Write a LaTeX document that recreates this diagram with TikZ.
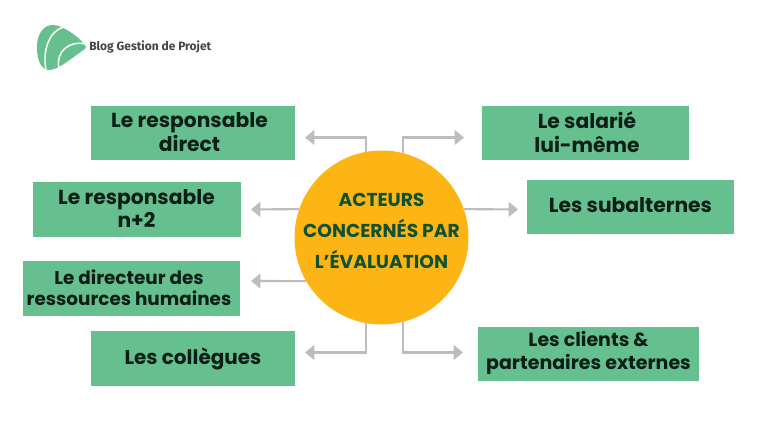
\documentclass[tikz,border=0pt]{standalone}
\usepackage{fontspec}
\setmainfont{Poppins}
\newfontfamily\logofont{Fira Sans}
\usetikzlibrary{arrows.meta}
\definecolor{boxgreen}{HTML}{66BF8E}
\definecolor{hubgold}{HTML}{FDB515}
\definecolor{hubtext}{HTML}{0F5132}
\definecolor{boxtext}{HTML}{0C1F16}
\definecolor{linkgrey}{HTML}{BDBDBD}
\definecolor{logogrey}{HTML}{444444}
\tikzset{
  actor/.style={fill=boxgreen,inner sep=0pt},
  actorlabel/.style={inner sep=0pt,align=center,text=boxtext,font=\fontsize{15.2}{17.5}\selectfont\bfseries},
  link/.style={draw=linkgrey,line width=1.6pt,-{Triangle[length=7pt,width=11pt]}},
}
\begin{document}
\begin{tikzpicture}[x=0.75pt,y=-0.75pt]
\useasboundingbox (0,0) rectangle (768,432);
\fill[white] (0,0) rectangle (768,432);
% logo
\fill[boxgreen] (37,47) .. controls (37,33) and (44,25) .. (53,25) .. controls (63,25) and (80,38) .. (85,45) .. controls (87,48) and (85,49) .. (82,51) .. controls (72,58) and (58,70) .. (49,70) .. controls (41,70) and (37,60) .. (37,47) -- cycle;
\draw[white,line width=1.1pt] (64,27) .. controls (50,30) and (42,50) .. (46,70);
\draw[white,line width=1.1pt] (85,44) .. controls (70,40) and (55,52) .. (59,68);
\node[anchor=west,inner sep=0pt,text=logogrey,font=\logofont\fontsize{9}{10}\selectfont\bfseries] (brand) at (89,47) {Blog Gestion de Projet};
% boxes
\node[actor,minimum width=153pt,minimum height=40.5pt] (a1) at (193,133) {};
\node[actor,minimum width=156pt,minimum height=41.25pt] (a2) at (137,209.5) {};
\node[actor,minimum width=162.75pt,minimum height=41.25pt] (a3) at (131.5,288.5) {};
\node[actor,minimum width=153pt,minimum height=41.25pt] (a4) at (193,358.5) {};
\node[actor,minimum width=155.25pt,minimum height=40.5pt] (b1) at (585.5,133) {};
\node[actor,minimum width=155.25pt,minimum height=40.5pt] (b2) at (630.5,207) {};
\node[actor,minimum width=165.75pt,minimum height=40.5pt] (b3) at (588.5,354) {};
% box texts
\node[actorlabel] (a1t) at (189.5,132) {Le responsable\\direct};
\node[actorlabel] (a2t) at (136.5,208.5) {Le responsable\\n+2};
\node[actorlabel,font=\fontsize{13.8}{16}\selectfont\bfseries] (a3t) at (129,287.5) {Le directeur des\\ressources humaines};
\node[actorlabel,font=\fontsize{15}{17.5}\selectfont\bfseries] (a4t) at (193,358.5) {Les collègues};
\node[actorlabel] (b1t) at (587,132) {Le salarié\\lui-même};
\node[actorlabel] (b2t) at (630.5,205.5) {Les subalternes};
\node[actorlabel,font=\fontsize{14.25}{17}\selectfont\bfseries] (b3t) at (588.5,353) {Les clients \&\\partenaires externes};
% hub
\node[circle,fill=hubgold,minimum size=130.5pt,inner sep=0pt] (hub) at (381.5,237.5) {};
\node[inner sep=0pt,align=center,text=hubtext,font=\fontsize{14}{23.2}\selectfont\bfseries] (hubtitle) at (381.5,231) {ACTEURS\\CONCERNÉS PAR\\L’ÉVALUATION};
% free ends
\coordinate (e1) at (305,137.5);
\coordinate (e2) at (251,209.5);
\coordinate (e3) at (251,281);
\coordinate (e4) at (305,352.5);
\coordinate (f1) at (464,137.5);
\coordinate (f2) at (518,209.5);
\coordinate (f3) at (463,352.5);
% connectors
\draw[link] (hub.100) |- (e1);
\draw[link] (hub.161) -- (e2);
\draw[link] (hub.210) -- (e3);
\draw[link] (hub.260) |- (e4);
\draw[link] (hub.76) |- (f1);
\draw[link] (hub.19) -- (f2);
\draw[link] (hub.284) |- (f3);
\end{tikzpicture}
\end{document}
